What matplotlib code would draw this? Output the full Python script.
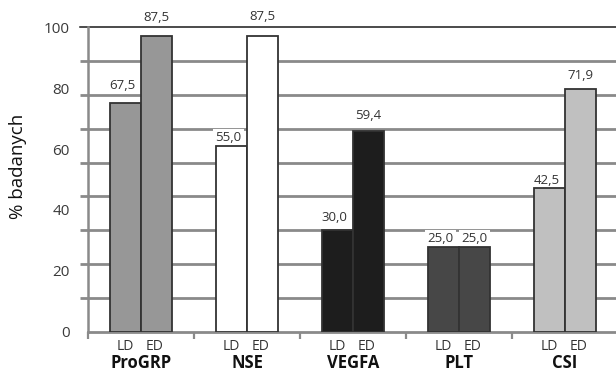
import numpy as np
import matplotlib.pyplot as plt

plt.rcParams['font.family'] = ['Open Sans', 'DejaVu Sans']

# Data
markers = ['ProGRP', 'NSE', 'VEGFA', 'PLT', 'CSI']
ld_values = [67.5, 55.0, 30.0, 25.0, 42.5]
ed_values = [87.5, 87.5, 59.4, 25.0, 71.9]
colors = ['#979797', '#ffffff', '#1d1d1d', '#474747', '#c0c0c0']
ytick_labels = ['0', '20', '40', '60', '80', '100']

# gap between bar top and its value label (as placed in the original)
ld_pad = [3.5, 0.5, 1.8, 0.6, 0.2]
ed_pad = [3.4, 3.8, 2.5, 0.6, 1.8]

fig = plt.figure(figsize=(6.16, 3.74), dpi=100)
ax = fig.add_axes([0.1429, 0.1131, 0.8604, 0.8139])

x = np.arange(len(markers))
w = 0.29
ld_x = x + 0.5 - w / 2
ed_x = x + 0.5 + w / 2

ax.bar(ld_x, ld_values, w, color=colors, edgecolor='#333333', linewidth=1.3, zorder=3)
ax.bar(ed_x, ed_values, w, color=colors, edgecolor='#333333', linewidth=1.3, zorder=3)

def fmt(v):
    return f'{v:.1f}'.replace('.', ',')

for xs, vals, pads, dx in [(ld_x, ld_values, ld_pad, -0.03), (ed_x, ed_values, ed_pad, 0.0)]:
    for xi, v, p in zip(xs, vals, pads):
        ax.text(xi + dx, v + p, fmt(v), ha='center', va='bottom', fontsize=9.5,
                color='#333333', zorder=2.5, clip_on=False,
                bbox=dict(facecolor='white', edgecolor='none', pad=1.5))

# gridlines (axis actually runs 0..90, relabelled 0..100)
for gy in range(10, 90, 10):
    ax.axhline(gy, color='#8a8a8a', lw=2.0, zorder=1)
ax.axhline(90, xmin=-0.015, color='#1a1a1a', lw=1.1, zorder=2, clip_on=False)

ax.set_xlim(0, 5)
ax.set_ylim(0, 90)

ax.set_yticks(np.linspace(0, 90, 6))
ax.set_yticklabels(ytick_labels, fontsize=11, color='#3a3a3a')
ax.set_yticks(np.arange(0, 81, 10), minor=True)
ax.tick_params(axis='y', which='major', length=0, pad=13)
ax.tick_params(axis='y', which='minor', length=6, width=2.0, color='#8a8a8a')

ax.set_xticks(np.arange(0, 5))
ax.set_xticklabels([])
ax.tick_params(axis='x', length=5, width=1.6, color='#8a8a8a')

for s in ['top', 'right']:
    ax.spines[s].set_visible(False)
ax.spines['left'].set_color('#8a8a8a')
ax.spines['left'].set_linewidth(1.8)
ax.spines['bottom'].set_color('#8a8a8a')
ax.spines['bottom'].set_linewidth(2.0)

# category labels
for i, name in enumerate(markers):
    ax.text(ld_x[i], -4.3, 'LD', ha='center', va='center', fontsize=10, color='#333333')
    ax.text(ed_x[i] - 0.02, -4.3, 'ED', ha='center', va='center', fontsize=10, color='#333333')
    ax.text(i + 0.5, -9.3, name, ha='center', va='center', fontsize=12,
            fontweight='bold', color='#111111')

fig.text(0.03, 0.555, '% badanych', rotation=90, ha='center', va='center',
         fontsize=13.5, color='#111111')

fig.savefig('out.png', dpi=100)
